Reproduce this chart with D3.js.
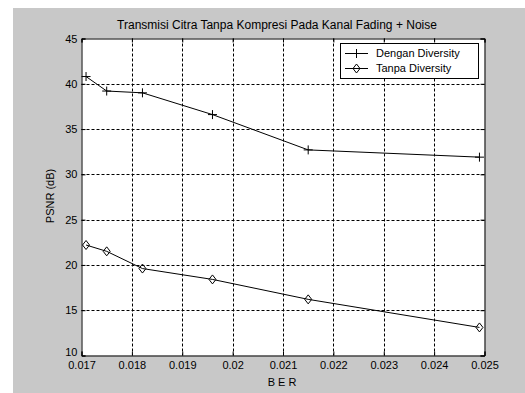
<!DOCTYPE html>
<html><head><meta charset="utf-8">
<script src="https://cdn.jsdelivr.net/npm/d3@7"></script>
<style>
html,body{margin:0;padding:0;background:#fff;}
svg{display:block;font-family:"Liberation Sans",Arial,sans-serif;}
</style></head>
<body>
<svg id="chart" width="525" height="393"></svg>
<script>
const ber = [0.01709, 0.0175, 0.01821, 0.0196, 0.0215, 0.0249];
const denganDiversity = [40.8, 39.2, 39.0, 36.6, 32.7, 31.9];
const tanpaDiversity = [22.2, 21.5, 19.6, 18.4, 16.2, 13.1];
const xTicks = [0.017, 0.018, 0.019, 0.02, 0.021, 0.022, 0.023, 0.024, 0.025];
const xTickLabels = ["0.017", "0.018", "0.019", "0.02", "0.021", "0.022", "0.023", "0.024", "0.025"];
const yTicks = [10, 15, 20, 25, 30, 35, 40, 45];
const seriesNames = ["Dengan Diversity", "Tanpa Diversity"];
const titleText = "Transmisi Citra Tanpa Kompresi Pada Kanal Fading + Noise";

const svg = d3.select("#chart");
svg.append("rect").attr("x", 13).attr("y", 8).attr("width", 512).attr("height", 385).attr("fill", "#c8c8c8");

const L = 81.5, R = 484.5, T = 38.5, B = 355.5;
const x = d3.scaleLinear().domain([0.017, 0.025]).range([L, R]);
const y = d3.scaleLinear().domain([10, 45]).range([B, T]);

svg.append("rect").attr("x", L).attr("y", T).attr("width", R - L).attr("height", B - T).attr("fill", "#fff");

const g = svg.append("g");
// grid
g.selectAll(".gx").data(xTicks.slice(1, -1)).enter().append("line")
  .attr("x1", d => Math.round(x(d)) + 0.5).attr("x2", d => Math.round(x(d)) + 0.5)
  .attr("y1", T).attr("y2", B).attr("stroke", "#000").attr("stroke-width", 1).attr("stroke-dasharray", "3,2");
g.selectAll(".gy").data(yTicks.slice(1, -1)).enter().append("line")
  .attr("y1", d => Math.round(y(d)) + 0.5).attr("y2", d => Math.round(y(d)) + 0.5)
  .attr("x1", L).attr("x2", R).attr("stroke", "#000").attr("stroke-width", 1).attr("stroke-dasharray", "3,2");

// axes
const xAxisB = d3.axisBottom(x).tickValues(xTicks).tickFormat((d, i) => xTickLabels[i]).tickSize(-4).tickPadding(8);
const xAxisT = d3.axisTop(x).tickValues(xTicks).tickFormat("").tickSize(-4);
const yAxisL = d3.axisLeft(y).tickValues(yTicks).tickSize(-4).tickPadding(8);
const yAxisR = d3.axisRight(y).tickValues(yTicks).tickFormat("").tickSize(-4);

function styleAxis(sel) {
  sel.select(".domain").attr("stroke", "#000");
  sel.selectAll(".tick line").attr("stroke", "#000");
  sel.selectAll("text").attr("fill", "#000").attr("font-size", 11).attr("font-family", "Liberation Sans, Arial, sans-serif");
}
const gxB = svg.append("g").attr("transform", `translate(0,${B})`).call(xAxisB).call(styleAxis);
gxB.selectAll("text").attr("dy", "0.71em").attr("y", 6);
svg.append("g").attr("transform", `translate(0,${T})`).call(xAxisT).call(styleAxis);
const gyL = svg.append("g").attr("transform", `translate(${L},0)`).call(yAxisL).call(styleAxis);
gyL.selectAll("text").attr("x", -4);
gyL.selectAll(".tick").filter(d => d === 10).select("text").attr("dy", "0.0em");
svg.append("g").attr("transform", `translate(${R},0)`).call(yAxisR).call(styleAxis);

// lines
const line = d3.line().x((d, i) => x(ber[i])).y(d => y(d));
const plot = svg.append("g");
plot.append("path").datum(denganDiversity).attr("d", line).attr("fill", "none").attr("stroke", "#000").attr("stroke-width", 1);
plot.append("path").datum(tanpaDiversity).attr("d", line).attr("fill", "none").attr("stroke", "#000").attr("stroke-width", 1);

function plusPath(cx, cy) { return `M${cx - 4.5},${cy}H${cx + 4.5}M${cx},${cy - 4.5}V${cy + 4.5}`; }
function diamondPath(cx, cy) { return `M${cx},${cy - 4.5}L${cx + 3.5},${cy}L${cx},${cy + 4.5}L${cx - 3.5},${cy}Z`; }

plot.selectAll(".plus").data(denganDiversity).enter().append("path")
  .attr("d", (d, i) => plusPath(x(ber[i]), y(d))).attr("stroke", "#000").attr("fill", "none");
plot.selectAll(".dia").data(tanpaDiversity).enter().append("path")
  .attr("d", (d, i) => diamondPath(x(ber[i]), y(d))).attr("stroke", "#000").attr("fill", "none");

// legend
const lg = svg.append("g");
lg.append("rect").attr("x", 340.5).attr("y", 43.5).attr("width", 138).attr("height", 35).attr("fill", "#fff").attr("stroke", "#000");
[0, 1].forEach(i => {
  const ly = 53.5 + i * 15;
  lg.append("line").attr("x1", 345).attr("x2", 368).attr("y1", ly).attr("y2", ly).attr("stroke", "#000");
  lg.append("path").attr("d", i === 0 ? plusPath(356.5, ly) : diamondPath(356.5, ly)).attr("stroke", "#000").attr("fill", "none");
  lg.append("text").attr("x", 376).attr("y", ly).attr("dy", "0.35em").attr("font-size", 11).attr("fill", "#000").text(seriesNames[i]);
});

// titles
svg.append("text").attr("x", 277).attr("y", 25).attr("dy", "0.35em").attr("text-anchor", "middle").attr("font-size", 12).attr("fill", "#000").text(titleText);
svg.append("text").attr("x", 282).attr("y", 382).attr("dy", "0.35em").attr("text-anchor", "middle").attr("font-size", 11).attr("fill", "#000").text("B E R");
svg.append("text").attr("transform", "translate(50,196) rotate(-90)").attr("dy", "0.35em").attr("text-anchor", "middle").attr("font-size", 11).attr("fill", "#000").text("PSNR (dB)");
</script>
</body></html>
